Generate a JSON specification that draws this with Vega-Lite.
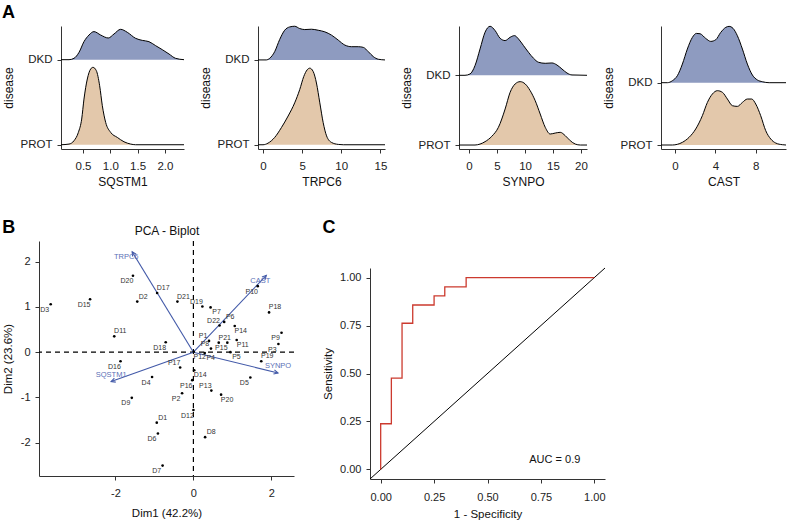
{
 "$schema": "https://vega.github.io/schema/vega-lite/v6.json",
 "padding": {"left": 1, "top": 4, "right": 2, "bottom": 0},
 "config": {
  "font": "Liberation Sans",
  "view": {"stroke": null},
  "axis": {"grid": false, "domainColor": "#333", "tickColor": "#333", "labelColor": "#222", "titleColor": "#111", "labelFontSize": 11, "titleFontSize": 11.5, "titleFontWeight": "normal", "tickSize": 4, "domainWidth": 1}
 },
 "datasets": {
  "ridge": [
   {"gene":"SQSTM1","disease":"DKD","x":0.097,"h":0},{"gene":"SQSTM1","disease":"DKD","x":0.244,"h":0},{"gene":"SQSTM1","disease":"DKD","x":0.335,"h":0.016},{"gene":"SQSTM1","disease":"DKD","x":0.427,"h":0.086},{"gene":"SQSTM1","disease":"DKD","x":0.518,"h":0.212},{"gene":"SQSTM1","disease":"DKD","x":0.61,"h":0.29},{"gene":"SQSTM1","disease":"DKD","x":0.701,"h":0.33},{"gene":"SQSTM1","disease":"DKD","x":0.823,"h":0.29},{"gene":"SQSTM1","disease":"DKD","x":0.963,"h":0.255},{"gene":"SQSTM1","disease":"DKD","x":1.068,"h":0.302},{"gene":"SQSTM1","disease":"DKD","x":1.189,"h":0.357},{"gene":"SQSTM1","disease":"DKD","x":1.311,"h":0.322},{"gene":"SQSTM1","disease":"DKD","x":1.464,"h":0.251},{"gene":"SQSTM1","disease":"DKD","x":1.586,"h":0.227},{"gene":"SQSTM1","disease":"DKD","x":1.708,"h":0.212},{"gene":"SQSTM1","disease":"DKD","x":1.83,"h":0.165},{"gene":"SQSTM1","disease":"DKD","x":1.952,"h":0.118},{"gene":"SQSTM1","disease":"DKD","x":2.075,"h":0.067},{"gene":"SQSTM1","disease":"DKD","x":2.196,"h":0.016},{"gene":"SQSTM1","disease":"DKD","x":2.35,"h":0},
   {"gene":"SQSTM1","disease":"PROT","x":0.097,"h":0},{"gene":"SQSTM1","disease":"PROT","x":0.244,"h":0.008},{"gene":"SQSTM1","disease":"PROT","x":0.335,"h":0.047},{"gene":"SQSTM1","disease":"PROT","x":0.415,"h":0.145},{"gene":"SQSTM1","disease":"PROT","x":0.476,"h":0.302},{"gene":"SQSTM1","disease":"PROT","x":0.518,"h":0.537},{"gene":"SQSTM1","disease":"PROT","x":0.579,"h":0.773},{"gene":"SQSTM1","disease":"PROT","x":0.64,"h":0.89},{"gene":"SQSTM1","disease":"PROT","x":0.683,"h":0.91},{"gene":"SQSTM1","disease":"PROT","x":0.744,"h":0.871},{"gene":"SQSTM1","disease":"PROT","x":0.805,"h":0.694},{"gene":"SQSTM1","disease":"PROT","x":0.854,"h":0.459},{"gene":"SQSTM1","disease":"PROT","x":0.915,"h":0.263},{"gene":"SQSTM1","disease":"PROT","x":1.007,"h":0.145},{"gene":"SQSTM1","disease":"PROT","x":1.129,"h":0.086},{"gene":"SQSTM1","disease":"PROT","x":1.251,"h":0.035},{"gene":"SQSTM1","disease":"PROT","x":1.373,"h":0.008},{"gene":"SQSTM1","disease":"PROT","x":1.464,"h":0},{"gene":"SQSTM1","disease":"PROT","x":2.35,"h":0},
   {"gene":"TRPC6","disease":"DKD","x":-0.64,"h":0},{"gene":"TRPC6","disease":"DKD","x":0.42,"h":0},{"gene":"TRPC6","disease":"DKD","x":0.85,"h":0.019},{"gene":"TRPC6","disease":"DKD","x":1.49,"h":0.097},{"gene":"TRPC6","disease":"DKD","x":2.13,"h":0.241},{"gene":"TRPC6","disease":"DKD","x":2.77,"h":0.35},{"gene":"TRPC6","disease":"DKD","x":3.41,"h":0.389},{"gene":"TRPC6","disease":"DKD","x":4.05,"h":0.397},{"gene":"TRPC6","disease":"DKD","x":4.69,"h":0.37},{"gene":"TRPC6","disease":"DKD","x":5.33,"h":0.358},{"gene":"TRPC6","disease":"DKD","x":6.19,"h":0.362},{"gene":"TRPC6","disease":"DKD","x":7.05,"h":0.35},{"gene":"TRPC6","disease":"DKD","x":7.9,"h":0.331},{"gene":"TRPC6","disease":"DKD","x":8.76,"h":0.292},{"gene":"TRPC6","disease":"DKD","x":9.62,"h":0.233},{"gene":"TRPC6","disease":"DKD","x":10.46,"h":0.175},{"gene":"TRPC6","disease":"DKD","x":11.32,"h":0.156},{"gene":"TRPC6","disease":"DKD","x":12.18,"h":0.156},{"gene":"TRPC6","disease":"DKD","x":12.82,"h":0.148},{"gene":"TRPC6","disease":"DKD","x":13.46,"h":0.097},{"gene":"TRPC6","disease":"DKD","x":14.1,"h":0.039},{"gene":"TRPC6","disease":"DKD","x":14.74,"h":0.008},{"gene":"TRPC6","disease":"DKD","x":15.59,"h":0},
   {"gene":"TRPC6","disease":"PROT","x":-0.64,"h":0},{"gene":"TRPC6","disease":"PROT","x":0,"h":0},{"gene":"TRPC6","disease":"PROT","x":0.64,"h":0.019},{"gene":"TRPC6","disease":"PROT","x":1.49,"h":0.086},{"gene":"TRPC6","disease":"PROT","x":2.35,"h":0.202},{"gene":"TRPC6","disease":"PROT","x":3.21,"h":0.339},{"gene":"TRPC6","disease":"PROT","x":4.05,"h":0.494},{"gene":"TRPC6","disease":"PROT","x":4.69,"h":0.65},{"gene":"TRPC6","disease":"PROT","x":5.21,"h":0.805},{"gene":"TRPC6","disease":"PROT","x":5.64,"h":0.883},{"gene":"TRPC6","disease":"PROT","x":5.98,"h":0.903},{"gene":"TRPC6","disease":"PROT","x":6.41,"h":0.864},{"gene":"TRPC6","disease":"PROT","x":6.83,"h":0.728},{"gene":"TRPC6","disease":"PROT","x":7.26,"h":0.494},{"gene":"TRPC6","disease":"PROT","x":7.69,"h":0.261},{"gene":"TRPC6","disease":"PROT","x":8.12,"h":0.105},{"gene":"TRPC6","disease":"PROT","x":8.76,"h":0.027},{"gene":"TRPC6","disease":"PROT","x":9.62,"h":0.004},{"gene":"TRPC6","disease":"PROT","x":10.26,"h":0},{"gene":"TRPC6","disease":"PROT","x":15.59,"h":0},
   {"gene":"SYNPO","disease":"DKD","x":-1.79,"h":0},{"gene":"SYNPO","disease":"DKD","x":-0.72,"h":0},{"gene":"SYNPO","disease":"DKD","x":0.18,"h":0.019},{"gene":"SYNPO","disease":"DKD","x":1.07,"h":0.139},{"gene":"SYNPO","disease":"DKD","x":1.97,"h":0.378},{"gene":"SYNPO","disease":"DKD","x":2.86,"h":0.617},{"gene":"SYNPO","disease":"DKD","x":3.76,"h":0.703},{"gene":"SYNPO","disease":"DKD","x":4.66,"h":0.641},{"gene":"SYNPO","disease":"DKD","x":5.55,"h":0.531},{"gene":"SYNPO","disease":"DKD","x":6.45,"h":0.498},{"gene":"SYNPO","disease":"DKD","x":7.34,"h":0.545},{"gene":"SYNPO","disease":"DKD","x":8.12,"h":0.569},{"gene":"SYNPO","disease":"DKD","x":8.83,"h":0.522},{"gene":"SYNPO","disease":"DKD","x":9.73,"h":0.426},{"gene":"SYNPO","disease":"DKD","x":10.62,"h":0.33},{"gene":"SYNPO","disease":"DKD","x":11.52,"h":0.244},{"gene":"SYNPO","disease":"DKD","x":12.41,"h":0.187},{"gene":"SYNPO","disease":"DKD","x":13.61,"h":0.172},{"gene":"SYNPO","disease":"DKD","x":14.8,"h":0.177},{"gene":"SYNPO","disease":"DKD","x":15.7,"h":0.148},{"gene":"SYNPO","disease":"DKD","x":16.59,"h":0.091},{"gene":"SYNPO","disease":"DKD","x":17.49,"h":0.033},{"gene":"SYNPO","disease":"DKD","x":18.39,"h":0.005},{"gene":"SYNPO","disease":"DKD","x":21.07,"h":0},
   {"gene":"SYNPO","disease":"PROT","x":-1.79,"h":0},{"gene":"SYNPO","disease":"PROT","x":1.07,"h":0},{"gene":"SYNPO","disease":"PROT","x":1.97,"h":0.014},{"gene":"SYNPO","disease":"PROT","x":2.86,"h":0.048},{"gene":"SYNPO","disease":"PROT","x":4.06,"h":0.124},{"gene":"SYNPO","disease":"PROT","x":5.25,"h":0.254},{"gene":"SYNPO","disease":"PROT","x":6.45,"h":0.517},{"gene":"SYNPO","disease":"PROT","x":7.34,"h":0.756},{"gene":"SYNPO","disease":"PROT","x":8.24,"h":0.876},{"gene":"SYNPO","disease":"PROT","x":9.13,"h":0.909},{"gene":"SYNPO","disease":"PROT","x":10.03,"h":0.876},{"gene":"SYNPO","disease":"PROT","x":10.92,"h":0.78},{"gene":"SYNPO","disease":"PROT","x":11.82,"h":0.636},{"gene":"SYNPO","disease":"PROT","x":12.71,"h":0.445},{"gene":"SYNPO","disease":"PROT","x":13.61,"h":0.254},{"gene":"SYNPO","disease":"PROT","x":14.5,"h":0.158},{"gene":"SYNPO","disease":"PROT","x":15.4,"h":0.172},{"gene":"SYNPO","disease":"PROT","x":16.29,"h":0.182},{"gene":"SYNPO","disease":"PROT","x":17.19,"h":0.134},{"gene":"SYNPO","disease":"PROT","x":18.08,"h":0.062},{"gene":"SYNPO","disease":"PROT","x":18.98,"h":0.014},{"gene":"SYNPO","disease":"PROT","x":19.88,"h":0},{"gene":"SYNPO","disease":"PROT","x":21.07,"h":0},
   {"gene":"CAST","disease":"DKD","x":-1.39,"h":0},{"gene":"CAST","disease":"DKD","x":-0.76,"h":0},{"gene":"CAST","disease":"DKD","x":-0.26,"h":0.032},{"gene":"CAST","disease":"DKD","x":0.23,"h":0.112},{"gene":"CAST","disease":"DKD","x":0.73,"h":0.299},{"gene":"CAST","disease":"DKD","x":1.22,"h":0.54},{"gene":"CAST","disease":"DKD","x":1.72,"h":0.727},{"gene":"CAST","disease":"DKD","x":2.12,"h":0.791},{"gene":"CAST","disease":"DKD","x":2.48,"h":0.786},{"gene":"CAST","disease":"DKD","x":3.04,"h":0.711},{"gene":"CAST","disease":"DKD","x":3.54,"h":0.663},{"gene":"CAST","disease":"DKD","x":4.04,"h":0.69},{"gene":"CAST","disease":"DKD","x":4.53,"h":0.807},{"gene":"CAST","disease":"DKD","x":5.03,"h":0.888},{"gene":"CAST","disease":"DKD","x":5.36,"h":0.904},{"gene":"CAST","disease":"DKD","x":5.75,"h":0.872},{"gene":"CAST","disease":"DKD","x":6.18,"h":0.754},{"gene":"CAST","disease":"DKD","x":6.68,"h":0.54},{"gene":"CAST","disease":"DKD","x":7.17,"h":0.299},{"gene":"CAST","disease":"DKD","x":7.67,"h":0.123},{"gene":"CAST","disease":"DKD","x":8.17,"h":0.043},{"gene":"CAST","disease":"DKD","x":8.66,"h":0.016},{"gene":"CAST","disease":"DKD","x":9.33,"h":0},{"gene":"CAST","disease":"DKD","x":11.0,"h":0},
   {"gene":"CAST","disease":"PROT","x":-1.39,"h":0},{"gene":"CAST","disease":"PROT","x":-0.26,"h":0},{"gene":"CAST","disease":"PROT","x":0.23,"h":0.011},{"gene":"CAST","disease":"PROT","x":0.73,"h":0.043},{"gene":"CAST","disease":"PROT","x":1.39,"h":0.123},{"gene":"CAST","disease":"PROT","x":2.05,"h":0.257},{"gene":"CAST","disease":"PROT","x":2.71,"h":0.471},{"gene":"CAST","disease":"PROT","x":3.21,"h":0.684},{"gene":"CAST","disease":"PROT","x":3.7,"h":0.818},{"gene":"CAST","disease":"PROT","x":4.2,"h":0.872},{"gene":"CAST","disease":"PROT","x":4.7,"h":0.845},{"gene":"CAST","disease":"PROT","x":5.19,"h":0.738},{"gene":"CAST","disease":"PROT","x":5.69,"h":0.631},{"gene":"CAST","disease":"PROT","x":6.18,"h":0.62},{"gene":"CAST","disease":"PROT","x":6.68,"h":0.684},{"gene":"CAST","disease":"PROT","x":7.17,"h":0.738},{"gene":"CAST","disease":"PROT","x":7.6,"h":0.738},{"gene":"CAST","disease":"PROT","x":8.0,"h":0.658},{"gene":"CAST","disease":"PROT","x":8.49,"h":0.471},{"gene":"CAST","disease":"PROT","x":8.99,"h":0.23},{"gene":"CAST","disease":"PROT","x":9.49,"h":0.096},{"gene":"CAST","disease":"PROT","x":9.98,"h":0.032},{"gene":"CAST","disease":"PROT","x":10.64,"h":0.005},{"gene":"CAST","disease":"PROT","x":11.0,"h":0}
  ],
  "pts": [
   {"id":"D3","x":-3.66,"y":1.06},{"id":"D15","x":-2.65,"y":1.17},{"id":"D20","x":-1.55,"y":1.69},{"id":"D17","x":-0.93,"y":1.31},{"id":"D2","x":-1.44,"y":1.12},{"id":"D21","x":-0.41,"y":1.12},{"id":"D11","x":-2.03,"y":0.35},{"id":"D18","x":-0.71,"y":0.22},{"id":"D16","x":-1.87,"y":-0.2},{"id":"D4","x":-1.06,"y":-0.55},{"id":"D9","x":-1.58,"y":-1.01},{"id":"P17","x":-0.34,"y":-0.34},{"id":"P16","x":-0.03,"y":-0.62},{"id":"P2","x":-0.29,"y":-0.91},{"id":"D12","x":0.0,"y":-1.28},{"id":"D1","x":-0.94,"y":-1.56},{"id":"D6","x":-0.91,"y":-1.8},{"id":"D7","x":-0.79,"y":-2.51},{"id":"D14","x":0.02,"y":-0.4},{"id":"P13","x":0.46,"y":-0.85},{"id":"P20","x":0.71,"y":-0.94},{"id":"D5","x":1.46,"y":-0.56},{"id":"D8","x":0.3,"y":-1.88},{"id":"P10","x":1.65,"y":1.46},{"id":"D19","x":0.23,"y":1.01},{"id":"P7","x":0.44,"y":0.99},{"id":"P18","x":1.94,"y":0.88},{"id":"P6","x":0.79,"y":0.67},{"id":"D22","x":0.67,"y":0.59},{"id":"P14","x":1.06,"y":0.58},{"id":"P1","x":0.4,"y":0.25},{"id":"P21","x":0.65,"y":0.21},{"id":"P15","x":0.87,"y":0.21},{"id":"P11","x":1.11,"y":0.27},{"id":"P8","x":0.45,"y":0.08},{"id":"P12","x":0.01,"y":0.01},{"id":"P4","x":0.29,"y":-0.02},{"id":"P5","x":0.95,"y":0.0},{"id":"P9","x":2.26,"y":0.43},{"id":"P3","x":2.18,"y":0.18},{"id":"P19","x":1.74,"y":-0.2}
  ],
  "vars": [
   {"var":"TRPC6","x":-1.57,"y":2.22},{"var":"CAST","x":1.87,"y":1.7},{"var":"SYNPO","x":2.17,"y":-0.46},{"var":"SQSTM1","x":-2.11,"y":-0.65}
  ],
  "roc": [
   {"fpr":0,"tpr":0},{"fpr":0,"tpr":0.238},{"fpr":0.05,"tpr":0.238},{"fpr":0.05,"tpr":0.476},{"fpr":0.1,"tpr":0.476},{"fpr":0.1,"tpr":0.762},{"fpr":0.15,"tpr":0.762},{"fpr":0.15,"tpr":0.857},{"fpr":0.25,"tpr":0.857},{"fpr":0.25,"tpr":0.905},{"fpr":0.3,"tpr":0.905},{"fpr":0.3,"tpr":0.952},{"fpr":0.4,"tpr":0.952},{"fpr":0.4,"tpr":1},{"fpr":1,"tpr":1}
  ],
  "diag": [{"fpr":-0.05,"tpr":-0.05},{"fpr":1.05,"tpr":1.05}],
  "origin": [{"x":0,"y":0}],
  "blank": [{"b":0}]
 },
 "columns": 2,
 "align": "none",
 "spacing": {"row": 30, "column": 0},
 "concat": [
  {"width": 1, "height": 1, "data": {"name": "blank"}, "mark": {"type": "point", "size": 0, "opacity": 0}},
  {
   "title": {"text": "A", "anchor": "start", "frame": "bounds", "fontSize": 18, "fontWeight": "bold", "offset": 2},
   "spacing": 13,
   "hconcat": [
    {
     "width": 123, "height": 123,
     "data": {"name": "ridge"},
     "transform": [{"filter": "datum.gene === 'SQSTM1'"}, {"calculate": "datum.disease === 'DKD' ? 1 : 0", "as": "base"}, {"calculate": "datum.base + datum.h", "as": "top"}],
     "encoding": {
      "x": {"field": "x", "type": "quantitative", "scale": {"domain": [0.097, 2.35], "nice": false, "zero": false}, "axis": {"values": [0.5, 1, 1.5, 2], "format": ".1f", "title": "SQSTM1", "labelPadding": 7, "titlePadding": 5, "labelFontSize": 11.5, "titleFontSize": 12}},
      "y": {"field": "top", "type": "quantitative", "scale": {"domain": [-0.05, 1.396], "nice": false, "zero": false}, "axis": {"values": [0, 1], "labelExpr": "datum.value === 1 ? 'DKD' : 'PROT'", "title": "disease", "labelPadding": 5, "titlePadding": 5, "labelFontSize": 11.5, "titleFontSize": 12}}
     },
     "layer": [
      {"mark": {"type": "area", "interpolate": "monotone"}, "encoding": {"y2": {"field": "base"}, "fill": {"field": "disease", "type": "nominal", "scale": {"domain": ["DKD", "PROT"], "range": ["#8e9bc0", "#e3c8ab"]}, "legend": null}}},
      {"mark": {"type": "line", "interpolate": "monotone", "color": "black", "strokeWidth": 1}, "encoding": {"detail": {"field": "disease", "type": "nominal"}}}
     ]
    },
    {
     "width": 127, "height": 123,
     "data": {"name": "ridge"},
     "transform": [{"filter": "datum.gene === 'TRPC6'"}, {"calculate": "datum.disease === 'DKD' ? 1 : 0", "as": "base"}, {"calculate": "datum.base + datum.h", "as": "top"}],
     "encoding": {
      "x": {"field": "x", "type": "quantitative", "scale": {"domain": [-0.64, 15.59], "nice": false, "zero": false}, "axis": {"values": [0, 5, 10, 15], "title": "TRPC6", "labelPadding": 7, "titlePadding": 5, "labelFontSize": 11.5, "titleFontSize": 12}},
      "y": {"field": "top", "type": "quantitative", "scale": {"domain": [-0.05, 1.40], "nice": false, "zero": false}, "axis": {"values": [0, 1], "labelExpr": "datum.value === 1 ? 'DKD' : 'PROT'", "title": "disease", "labelPadding": 5, "titlePadding": 5, "labelFontSize": 11.5, "titleFontSize": 12}}
     },
     "layer": [
      {"mark": {"type": "area", "interpolate": "monotone"}, "encoding": {"y2": {"field": "base"}, "fill": {"field": "disease", "type": "nominal", "scale": {"domain": ["DKD", "PROT"], "range": ["#8e9bc0", "#e3c8ab"]}, "legend": null}}},
      {"mark": {"type": "line", "interpolate": "monotone", "color": "black", "strokeWidth": 1}, "encoding": {"detail": {"field": "disease", "type": "nominal"}}}
     ]
    },
    {
     "width": 128, "height": 123,
     "data": {"name": "ridge"},
     "transform": [{"filter": "datum.gene === 'SYNPO'"}, {"calculate": "datum.disease === 'DKD' ? 1 : 0", "as": "base"}, {"calculate": "datum.base + datum.h", "as": "top"}],
     "encoding": {
      "x": {"field": "x", "type": "quantitative", "scale": {"domain": [-1.79, 21.07], "nice": false, "zero": false}, "axis": {"values": [0, 5, 10, 15, 20], "title": "SYNPO", "labelPadding": 7, "titlePadding": 5, "labelFontSize": 11.5, "titleFontSize": 12}},
      "y": {"field": "top", "type": "quantitative", "scale": {"domain": [-0.057, 1.707], "nice": false, "zero": false}, "axis": {"values": [0, 1], "labelExpr": "datum.value === 1 ? 'DKD' : 'PROT'", "title": "disease", "labelPadding": 5, "titlePadding": 5, "labelFontSize": 11.5, "titleFontSize": 12}}
     },
     "layer": [
      {"mark": {"type": "area", "interpolate": "monotone"}, "encoding": {"y2": {"field": "base"}, "fill": {"field": "disease", "type": "nominal", "scale": {"domain": ["DKD", "PROT"], "range": ["#8e9bc0", "#e3c8ab"]}, "legend": null}}},
      {"mark": {"type": "line", "interpolate": "monotone", "color": "black", "strokeWidth": 1}, "encoding": {"detail": {"field": "disease", "type": "nominal"}}}
     ]
    },
    {
     "width": 125, "height": 123,
     "data": {"name": "ridge"},
     "transform": [{"filter": "datum.gene === 'CAST'"}, {"calculate": "datum.disease === 'DKD' ? 1 : 0", "as": "base"}, {"calculate": "datum.base + datum.h", "as": "top"}],
     "encoding": {
      "x": {"field": "x", "type": "quantitative", "scale": {"domain": [-1.39, 11.0], "nice": false, "zero": false}, "axis": {"values": [0, 4, 8], "title": "CAST", "labelPadding": 7, "titlePadding": 5, "labelFontSize": 11.5, "titleFontSize": 12}},
      "y": {"field": "top", "type": "quantitative", "scale": {"domain": [-0.064, 1.91], "nice": false, "zero": false}, "axis": {"values": [0, 1], "labelExpr": "datum.value === 1 ? 'DKD' : 'PROT'", "title": "disease", "labelPadding": 5, "titlePadding": 5, "labelFontSize": 11.5, "titleFontSize": 12}}
     },
     "layer": [
      {"mark": {"type": "area", "interpolate": "monotone"}, "encoding": {"y2": {"field": "base"}, "fill": {"field": "disease", "type": "nominal", "scale": {"domain": ["DKD", "PROT"], "range": ["#8e9bc0", "#e3c8ab"]}, "legend": null}}},
      {"mark": {"type": "line", "interpolate": "monotone", "color": "black", "strokeWidth": 1}, "encoding": {"detail": {"field": "disease", "type": "nominal"}}}
     ]
    }
   ]
  },
  {"width": 1, "height": 1, "data": {"name": "blank"}, "mark": {"type": "point", "size": 0, "opacity": 0}},
  {
   "columns": 2,
   "align": "none",
   "spacing": {"row": 0, "column": 27},
   "concat": [
    {"width": 1, "height": 1, "data": {"name": "blank"}, "mark": {"type": "point", "size": 0, "opacity": 0}},
    {"width": 1, "height": 1, "data": {"name": "blank"}, "mark": {"type": "point", "size": 0, "opacity": 0}},
    {
     "title": {"text": "B", "anchor": "start", "frame": "bounds", "fontSize": 18, "fontWeight": "bold", "offset": -13},
     "width": 255, "height": 235,
     "resolve": {"axis": {"x": "independent"}},
     "layer": [
      {
       "data": {"name": "origin"},
       "mark": {"type": "rule", "strokeDash": [5, 4], "color": "black", "strokeWidth": 1.2},
       "encoding": {"x": {"field": "x", "type": "quantitative", "scale": {"domain": [-3.96, 2.58], "nice": false, "zero": false}, "axis": {"orient": "top", "title": "PCA - Biplot", "labels": false, "ticks": false, "domain": false, "titleFontSize": 12, "titlePadding": 4}}}
      },
      {
       "data": {"name": "origin"},
       "mark": {"type": "rule", "strokeDash": [5, 4], "color": "black", "strokeWidth": 1.2},
       "encoding": {"y": {"field": "y", "type": "quantitative", "scale": {"domain": [-2.74, 2.46], "nice": false, "zero": false}}}
      },
      {
       "data": {"name": "vars"},
       "transform": [{"calculate": "0", "as": "x0"}, {"calculate": "0", "as": "y0"}],
       "mark": {"type": "rule", "color": "#4259a8", "strokeWidth": 1.1},
       "encoding": {
        "x": {"field": "x0", "type": "quantitative", "axis": null},
        "y": {"field": "y0", "type": "quantitative"},
        "x2": {"field": "x"},
        "y2": {"field": "y"}
       }
      },
      {
       "data": {"name": "vars"},
       "transform": [{"calculate": "atan2(datum.x * 39, datum.y * 45.2) * 180 / PI", "as": "ang"}],
       "mark": {"type": "point", "shape": "M-0.5,1L0,0L0.5,1", "filled": false, "stroke": "#4259a8", "strokeWidth": 1.1, "size": 70, "opacity": 1},
       "encoding": {
        "x": {"field": "x", "type": "quantitative", "axis": null},
        "y": {"field": "y", "type": "quantitative"},
        "angle": {"field": "ang", "type": "quantitative", "scale": null}
       }
      },
      {
       "data": {"name": "vars"},
       "transform": [{"filter": "datum.var === 'TRPC6' || datum.var === 'CAST'"}],
       "mark": {"type": "text", "fontSize": 7.5, "color": "#5a70b6", "dx": -6, "dy": 5.5},
       "encoding": {
        "x": {"field": "x", "type": "quantitative", "axis": null},
        "y": {"field": "y", "type": "quantitative"},
        "text": {"field": "var", "type": "nominal"}
       }
      },
      {
       "data": {"name": "vars"},
       "transform": [{"filter": "datum.var === 'SQSTM1' || datum.var === 'SYNPO'"}],
       "mark": {"type": "text", "fontSize": 7.5, "color": "#5a70b6", "dx": 0, "dy": -6.6},
       "encoding": {
        "x": {"field": "x", "type": "quantitative", "axis": null},
        "y": {"field": "y", "type": "quantitative"},
        "text": {"field": "var", "type": "nominal"}
       }
      },
      {
       "data": {"name": "pts"},
       "mark": {"type": "point", "filled": true, "color": "black", "size": 7, "opacity": 1},
       "encoding": {
        "x": {"field": "x", "type": "quantitative", "scale": {"domain": [-3.96, 2.58], "nice": false, "zero": false}, "axis": {"values": [-2, 0, 2], "labelExpr": "'' + datum.value", "title": "Dim1 (42.2%)", "labelPadding": 7, "titlePadding": 9}},
        "y": {"field": "y", "type": "quantitative", "scale": {"domain": [-2.74, 2.46], "nice": false, "zero": false}, "axis": {"values": [-2, -1, 0, 1, 2], "labelExpr": "'' + datum.value", "title": "Dim2 (23.6%)", "labelPadding": 5, "titlePadding": 7}}
       }
      },
      {
       "data": {"name": "pts"},
       "transform": [{"filter": "indexof(['D17','D2','D21','D11','D1','D8','P18','P6','P21','P19'], datum.id) >= 0"}],
       "mark": {"type": "text", "fontSize": 7, "color": "#333", "dx": 6, "dy": -5},
       "encoding": {"x": {"field": "x", "type": "quantitative", "axis": null}, "y": {"field": "y", "type": "quantitative"}, "text": {"field": "id", "type": "nominal"}}
      },
      {
       "data": {"name": "pts"},
       "transform": [{"filter": "indexof(['P17','P13','D19','P1','P8','D22'], datum.id) >= 0"}],
       "mark": {"type": "text", "fontSize": 7, "color": "#333", "dx": -6, "dy": -5},
       "encoding": {"x": {"field": "x", "type": "quantitative", "axis": null}, "y": {"field": "y", "type": "quantitative"}, "text": {"field": "id", "type": "nominal"}}
      },
      {
       "data": {"name": "pts"},
       "transform": [{"filter": "indexof(['D14','P20','P7','P14','P11','P4','P5','P12'], datum.id) >= 0"}],
       "mark": {"type": "text", "fontSize": 7, "color": "#333", "dx": 6, "dy": 5},
       "encoding": {"x": {"field": "x", "type": "quantitative", "axis": null}, "y": {"field": "y", "type": "quantitative"}, "text": {"field": "id", "type": "nominal"}}
      },
      {
       "data": {"name": "pts"},
       "transform": [{"filter": "indexof(['D17','D2','D21','D11','D1','D8','P18','P6','P21','P19','P17','P13','D19','P1','P8','D22','D14','P20','P7','P14','P11','P4','P5','P12'], datum.id) < 0"}],
       "mark": {"type": "text", "fontSize": 7, "color": "#333", "dx": -6, "dy": 5.5},
       "encoding": {"x": {"field": "x", "type": "quantitative", "axis": null}, "y": {"field": "y", "type": "quantitative"}, "text": {"field": "id", "type": "nominal"}}
      }
     ]
    },
    {
     "title": {"text": "C", "anchor": "start", "frame": "bounds", "fontSize": 18, "fontWeight": "bold", "offset": 29},
     "width": 235, "height": 211,
     "layer": [
      {
       "data": {"name": "diag"},
       "mark": {"type": "line", "color": "black", "strokeWidth": 1},
       "encoding": {
        "x": {"field": "fpr", "type": "quantitative", "scale": {"domain": [-0.05, 1.05], "nice": false, "zero": false}, "axis": {"values": [0, 0.25, 0.5, 0.75, 1], "format": ".2f", "title": "1 - Specificity", "labelPadding": 8, "titlePadding": 6}},
        "y": {"field": "tpr", "type": "quantitative", "scale": {"domain": [-0.05, 1.05], "nice": false, "zero": false}, "axis": {"values": [0, 0.25, 0.5, 0.75, 1], "format": ".2f", "title": "Sensitivity", "labelPadding": 5, "titlePadding": 6}}
       }
      },
      {
       "data": {"name": "roc"},
       "mark": {"type": "line", "color": "#cc3a2e", "strokeWidth": 1.3},
       "encoding": {
        "x": {"field": "fpr", "type": "quantitative"},
        "y": {"field": "tpr", "type": "quantitative"},
        "order": [{"field": "fpr", "type": "quantitative"}, {"field": "tpr", "type": "quantitative"}]
       }
      },
      {
       "data": {"values": [{"fpr": 0.815, "tpr": 0.05, "label": "AUC = 0.9"}]},
       "mark": {"type": "text", "fontSize": 11, "color": "#111"},
       "encoding": {
        "x": {"field": "fpr", "type": "quantitative"},
        "y": {"field": "tpr", "type": "quantitative"},
        "text": {"field": "label", "type": "nominal"}
       }
      }
     ]
    }
   ]
  }
 ]
}
